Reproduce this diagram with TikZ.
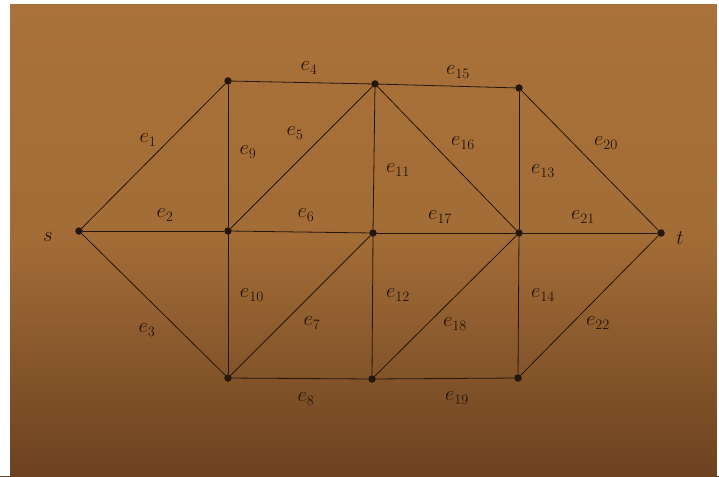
\documentclass[tikz,border=0pt]{standalone}
\usepackage{fontspec}
\definecolor{bgtop}{RGB}{170,114,58}
\definecolor{bgbot}{RGB}{108,66,32}
\definecolor{ink}{RGB}{35,22,12}
\begin{document}
\begin{tikzpicture}[x=1pt,y=-1pt,
  vtx/.style={circle,fill=ink,inner sep=0pt,minimum size=7.5pt},
  edge/.style={draw=ink,line width=0.8pt},
  lab/.style={text=ink,font=\fontsize{21}{25}\selectfont,inner sep=0pt}]
\useasboundingbox (0,0) rectangle (719,476);
\shade[top color=bgtop,bottom color=bgbot,middle color=bgtop!88!bgbot] (0,0) rectangle (719,476);
\fill[white] (0,0) rectangle (10,476);
\fill[white] (0,0) rectangle (719,4);
\fill[white] (717,0) rectangle (719,476);
% vertices
\node[vtx] (s) at (79,231) {};
\node[vtx] (a) at (228,81) {};
\node[vtx] (b) at (375,84) {};
\node[vtx] (c) at (519,88) {};
\node[vtx] (m1) at (228,231) {};
\node[vtx] (m2) at (373,233) {};
\node[vtx] (m3) at (519,233) {};
\node[vtx] (t) at (661,233) {};
\node[vtx] (b1) at (228,378) {};
\node[vtx] (b2) at (372,379) {};
\node[vtx] (b3) at (518,378) {};
% edges
\draw[edge] (s) -- (a);
\draw[edge] (s) -- (m1);
\draw[edge] (s) -- (b1);
\draw[edge] (a) -- (b);
\draw[edge] (m1) -- (b);
\draw[edge] (m1) -- (m2);
\draw[edge] (b1) -- (m2);
\draw[edge] (b1) -- (b2);
\draw[edge] (a) -- (m1);
\draw[edge] (m1) -- (b1);
\draw[edge] (b) -- (m2);
\draw[edge] (m2) -- (b2);
\draw[edge] (c) -- (m3);
\draw[edge] (m3) -- (b3);
\draw[edge] (b) -- (c);
\draw[edge] (b) -- (m3);
\draw[edge] (m2) -- (m3);
\draw[edge] (b2) -- (m3);
\draw[edge] (b2) -- (b3);
\draw[edge] (c) -- (t);
\draw[edge] (m3) -- (t);
\draw[edge] (b3) -- (t);
% labels
\node[lab] (ls) at (48,237) {$s$};
\node[lab] (lt) at (680,238) {$t$};
\node[lab] (l1) at (148,140) {$e_1$};
\node[lab] (l2) at (165,215) {$e_2$};
\node[lab] (l3) at (147,330) {$e_3$};
\node[lab] (l4) at (309,68) {$e_4$};
\node[lab] (l5) at (295,133) {$e_5$};
\node[lab] (l6) at (306,215) {$e_6$};
\node[lab] (l7) at (312,323) {$e_7$};
\node[lab] (l8) at (306,399) {$e_8$};
\node[lab] (l9) at (248,152) {$e_9$};
\node[lab] (l10) at (252,295) {$e_{10}$};
\node[lab] (l11) at (398,170) {$e_{11}$};
\node[lab] (l12) at (398,295) {$e_{12}$};
\node[lab] (l13) at (543,171) {$e_{13}$};
\node[lab] (l14) at (543,295) {$e_{14}$};
\node[lab] (l15) at (458,72) {$e_{15}$};
\node[lab] (l16) at (463,143) {$e_{16}$};
\node[lab] (l17) at (440,217) {$e_{17}$};
\node[lab] (l18) at (455,324) {$e_{18}$};
\node[lab] (l19) at (457,398) {$e_{19}$};
\node[lab] (l20) at (606,143) {$e_{20}$};
\node[lab] (l21) at (583,217) {$e_{21}$};
\node[lab] (l22) at (598,323) {$e_{22}$};
\end{tikzpicture}
\end{document}
